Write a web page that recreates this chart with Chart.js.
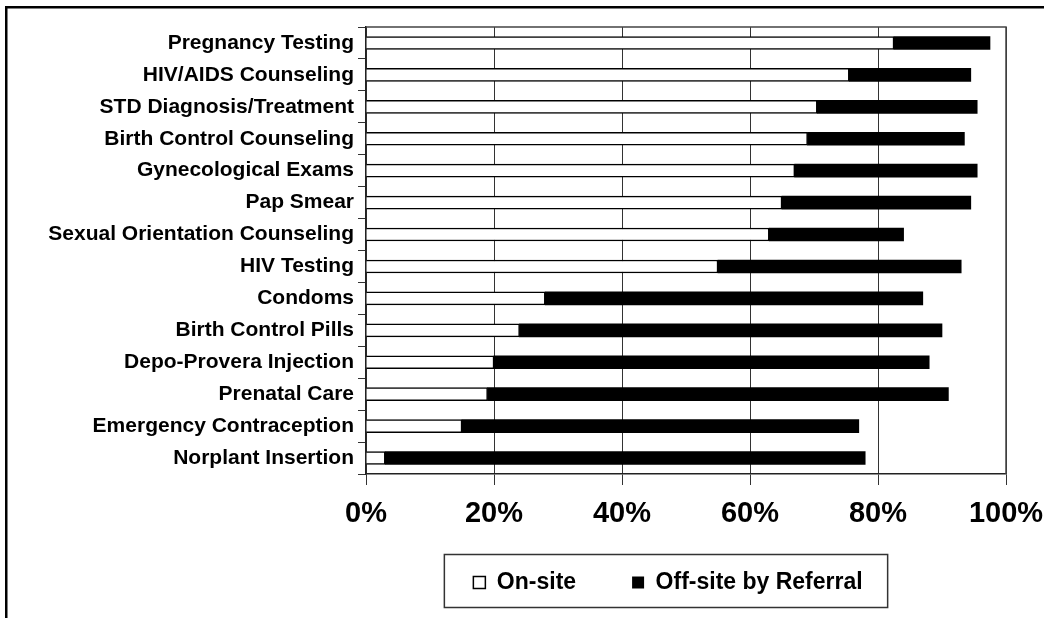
<!DOCTYPE html>
<html>
<head>
<meta charset="utf-8">
<script src="https://cdn.jsdelivr.net/npm/chart.js@4/dist/chart.umd.min.js"></script>
<style>
  html, body { margin: 0; padding: 0; background: #fff; }
  #wrap { width: 1044px; height: 618px; position: relative; }
</style>
</head>
<body>
<div id="wrap"><canvas id="grafico" width="1044" height="618"></canvas></div>
<script>
const servicos = [
    'Pregnancy Testing',
    'HIV/AIDS Counseling',
    'STD Diagnosis/Treatment',
    'Birth Control Counseling',
    'Gynecological Exams',
    'Pap Smear',
    'Sexual Orientation Counseling',
    'HIV Testing',
    'Condoms',
    'Birth Control Pills',
    'Depo-Provera Injection',
    'Prenatal Care',
    'Emergency Contraception',
    'Norplant Insertion'
]
const onSite = [82.5, 75.5, 70.5, 69, 67, 65, 63, 55, 28, 24, 20, 19, 15, 3]
const offSite = [15, 19, 25, 24.5, 28.5, 29.5, 21, 38, 59, 66, 68, 72, 62, 75]
const xTicks = [0, 20, 40, 60, 80, 100]

// molduras: area do grafico, legenda e borda externa
const molduras = {
    id: 'molduras',
    afterLayout(chart) {
        const lg = chart.legend
        lg.left += 165
        lg.right += 165
        lg.top = 515
        lg.bottom = 618
    },
    beforeDatasetsDraw(chart) {
        const { ctx, chartArea: a } = chart
        ctx.save()
        ctx.strokeStyle = '#444'
        ctx.lineWidth = 1.5
        ctx.beginPath()
        ctx.moveTo(a.left, a.top)
        ctx.lineTo(a.right, a.top)
        ctx.lineTo(a.right, a.bottom)
        ctx.stroke()
        ctx.restore()
    },
    afterDraw(chart) {
        const ctx = chart.ctx
        const hb = chart.legend.legendHitBoxes
        ctx.save()
        if (hb && hb.length) {
            const first = hb[0]
            const last = hb[hb.length - 1]
            const cy = first.top + first.height / 2
            ctx.strokeStyle = '#333'
            ctx.lineWidth = 1.5
            ctx.strokeRect(first.left - 29, cy - 28, last.left + last.width + 25 - (first.left - 29), 53)
        }
        ctx.fillStyle = '#000'
        ctx.fillRect(5, 6, 1039, 2.5)
        ctx.fillRect(5, 6, 2.5, 612)
        ctx.restore()
    }
}

const ctx = document.getElementById('grafico').getContext('2d')
new Chart(ctx, {
    type: 'bar',
    data: {
        labels: servicos,
        datasets: [{
            label: 'On-site',
            data: onSite,
            backgroundColor: '#fff',
            borderColor: '#000',
            borderWidth: 1.5,
            barThickness: 13
        }, {
            label: 'Off-site by Referral',
            data: offSite,
            backgroundColor: '#000',
            borderColor: '#000',
            borderWidth: 0,
            barThickness: 13
        }]
    },
    options: {
        indexAxis: 'y',
        responsive: false,
        animation: false,
        layout: { padding: { top: 27, right: 38, left: 0, bottom: 0 } },
        scales: {
            x: {
                stacked: true,
                min: 0,
                max: 100,
                afterBuildTicks: s => { s.ticks = xTicks.map(v => ({ value: v })) },
                afterFit: s => {
                    s.height = 98
                    s.paddingLeft = 0
                    s.paddingRight = 0
                },
                grid: { color: '#333', lineWidth: 1, tickLength: 11 },
                border: { color: '#222', width: 1.5 },
                ticks: {
                    callback: v => v + '%',
                    color: '#000',
                    padding: 12,
                    maxRotation: 0,
                    font: { family: '"Liberation Sans", Arial, sans-serif', weight: 'bold', size: 29 }
                }
            },
            y: {
                stacked: true,
                afterFit: s => { s.width = 366 },
                grid: { offset: true, drawOnChartArea: false, color: '#333', tickLength: 8 },
                border: { color: '#222', width: 1.5 },
                ticks: {
                    color: '#000',
                    padding: 4,
                    autoSkip: false,
                    font: { family: '"Liberation Sans", Arial, sans-serif', weight: 'bold', size: 21 }
                }
            }
        },
        plugins: {
            legend: {
                position: 'bottom',
                maxHeight: 46,
                labels: {
                    color: '#000',
                    boxWidth: 12,
                    boxHeight: 12,
                    padding: 56,
                    font: { family: '"Liberation Sans", Arial, sans-serif', weight: 'bold', size: 23 }
                }
            },
            tooltip: { enabled: false }
        }
    },
    plugins: [molduras]
})
</script>
</body>
</html>
